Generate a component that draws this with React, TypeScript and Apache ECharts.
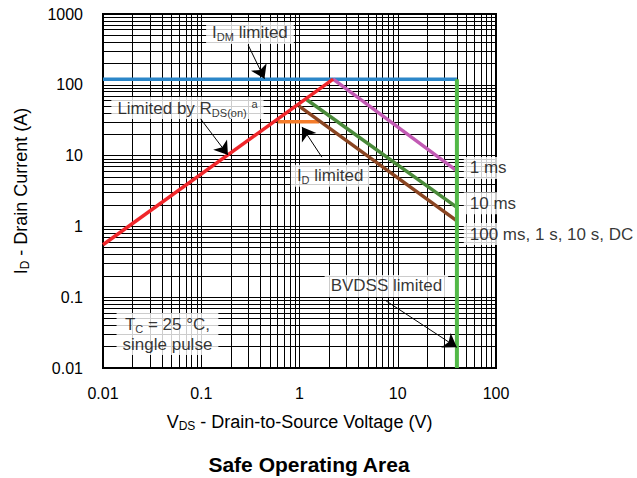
import React, { useEffect, useRef } from 'react';
import * as echarts from 'echarts';

const FONT = '"Liberation Sans", Arial, Helvetica, sans-serif';

const X_TICKS = ['0.01', '0.1', '1', '10', '100'];
const Y_TICKS = ['0.01', '0.1', '1', '10', '100', '1000'];

// Limit curves: [V_DS (V), I_D (A)]
const IDM_LIMIT = [[0.01, 120], [40, 120]];
const RDS_LIMIT = [[0.01, 0.55], [2.2, 120]];
const PULSE_1MS = [[2.2, 120], [40, 6.1]];
const PULSE_10MS = [[1.16, 63], [40, 1.86]];
const PULSE_100MS = [[0.99, 50], [40, 1.2]];
const ID_LIMIT = [[0.6, 30], [1.58, 30]];
const BVDSS_LIMIT = [[40, 120], [40, 0.01]];

// Annotations: text, anchor [V, A], alignment
const NOTES = [
  { text: 'I{s|DM} limited', at: [0.313, 540], align: 'center' },
  { text: 'Limited by R{s|DS(on)} {p|a}', at: [0.0724, 47], align: 'center' },
  { text: 'I{s|D} limited', at: [2.05, 5.2], align: 'center' },
  { text: '1 ms', at: [47, 6.7], align: 'left' },
  { text: '10 ms', at: [47, 2.12], align: 'left' },
  { text: '100 ms, 1 s, 10 s, DC', at: [47, 0.78], align: 'left' },
  { text: 'BVDSS limited', at: [7.66, 0.144], align: 'center' },
  { text: 'T{s|C} = 25 °C,\nsingle pulse', at: [0.0453, 0.0302], align: 'center' },
];

const ARROWS = [
  [[0.3, 365], [0.44, 122]],
  [[0.097, 34], [0.187, 10.2]],
  [[1.69, 9.5], [1.06, 25.4]],
  [[7.4, 0.091], [39.9, 0.0196]],
];

const RICH = {
  s: { fontSize: 11, verticalAlign: 'bottom', lineHeight: 13, fontFamily: FONT, color: '#000' },
  p: { fontSize: 11, verticalAlign: 'top', lineHeight: 13, fontFamily: FONT, color: '#000' },
};

function gridValues(lo: number, hi: number): number[] {
  const out: number[] = [];
  for (let e = lo; e < hi; e++) {
    for (let k = 1; k <= 9; k++) out.push(Number((k * Math.pow(10, e)).toPrecision(3)));
  }
  out.push(Math.pow(10, hi));
  return out;
}

function tickFormatter(ticks: string[]) {
  return (v: number) => {
    const t = ticks.find((s) => Math.abs(Math.log10(Number(s)) - Math.log10(v)) < 1e-6);
    return t ?? '';
  };
}

const lineSeries = (name: string, data: number[][], color: string, width = 3.5) => ({
  name,
  type: 'line',
  data,
  symbol: 'none',
  silent: true,
  z: 3,
  color,
  lineStyle: { color, width },
});

export default function App() {
  const ref = useRef<HTMLDivElement>(null);

  useEffect(() => {
    if (!ref.current) return;
    const chart = echarts.init(ref.current, undefined, { renderer: 'svg' });

    const gx = gridValues(-2, 2);
    const gy = gridValues(-2, 3);

    chart.setOption({
      animation: false,
      backgroundColor: '#fff',
      textStyle: { fontFamily: FONT },
      grid: {
        left: 103,
        right: 141,
        top: 14,
        bottom: 110,
        show: true,
        borderColor: '#000',
        borderWidth: 2,
        backgroundColor: '#fff',
        containLabel: false,
        outerBoundsMode: 'none',
      },
      xAxis: {
        type: 'log',
        logBase: 10,
        min: 0.01,
        max: 100,
        axisLine: { show: false },
        axisTick: { show: false },
        splitLine: { show: false },
        axisLabel: {
          color: '#000',
          fontSize: 16,
          fontFamily: FONT,
          margin: 17,
          formatter: tickFormatter(X_TICKS),
        },
        name: 'V{s|DS} - Drain-to-Source Voltage (V)',
        nameLocation: 'middle',
        nameGap: 44,
        nameTextStyle: {
          color: '#000',
          fontSize: 18,
          fontFamily: FONT,
          lineHeight: 20,
          rich: { s: { ...RICH.s, fontSize: 12 } },
        },
      },
      yAxis: {
        type: 'log',
        logBase: 10,
        min: 0.01,
        max: 1000,
        axisLine: { show: false },
        axisTick: { show: false },
        splitLine: { show: false },
        axisLabel: {
          color: '#000',
          fontSize: 16,
          fontFamily: FONT,
          margin: 20,
          formatter: tickFormatter(Y_TICKS),
        },
        name: 'I{s|D} - Drain Current (A)',
        nameLocation: 'middle',
        nameGap: 72,
        nameRotate: 90,
        nameTextStyle: {
          color: '#000',
          fontSize: 18,
          fontFamily: FONT,
          lineHeight: 20,
          rich: { s: { ...RICH.s, fontSize: 12 } },
        },
      },
      graphic: [
        {
          type: 'text',
          x: 309,
          y: 464,
          style: {
            text: 'Safe Operating Area',
            align: 'center',
            verticalAlign: 'middle',
            font: `bold 21px ${FONT}`,
            fill: '#000',
          },
        },
      ],
      series: [
        {
          name: 'grid',
          type: 'line',
          data: [],
          z: 1,
          silent: true,
          markLine: {
            z: 1,
            silent: true,
            symbol: ['none', 'none'],
            label: { show: false },
            lineStyle: { color: '#000', width: 1, type: 'solid' },
            emphasis: { disabled: true },
            data: [
              ...gx.map((v) => ({ xAxis: v })),
              ...gy.map((v) => ({ yAxis: v })),
            ],
          },
        },
        lineSeries('IDM limited', IDM_LIMIT, '#2b86c8'),
        lineSeries('ID limited', ID_LIMIT, '#f47c2a'),
        lineSeries('100 ms, 1 s, 10 s, DC', PULSE_100MS, '#8a4522'),
        lineSeries('10 ms', PULSE_10MS, '#4a8a3a'),
        lineSeries('1 ms', PULSE_1MS, '#c25ab4'),
        lineSeries('Limited by RDS(on)', RDS_LIMIT, '#f0262a'),
        lineSeries('BVDSS limited', BVDSS_LIMIT, '#52b947', 4),
        {
          name: 'arrows',
          type: 'line',
          data: [],
          z: 8,
          silent: true,
          color: '#000',
          markLine: {
            z: 8,
            silent: true,
            symbol: ['none', 'arrow'],
            symbolSize: 13,
            label: { show: false },
            emphasis: { disabled: true },
            lineStyle: { color: '#000', width: 1, type: 'solid' },
            data: ARROWS.map(([a, b]) => [{ coord: a }, { coord: b }]),
          },
        },
        {
          name: 'notes',
          type: 'scatter',
          z: 10,
          silent: true,
          clip: false,
          symbol: 'circle',
          symbolSize: 1,
          itemStyle: { color: 'rgba(0,0,0,0)' },
          label: {
            show: true,
            position: 'inside',
            color: '#000',
            fontSize: 17,
            fontFamily: FONT,
            lineHeight: 20,
            backgroundColor: '#fff',
            padding: [1, 6],
            rich: RICH,
          },
          data: NOTES.map((n) => ({
            value: n.at,
            label: { formatter: n.text, align: n.align },
          })),
        },
      ],
    });

    return () => chart.dispose();
  }, []);

  return (
    <div
      ref={ref}
      style={{ position: 'fixed', left: 0, top: 0, width: 637, height: 478, background: '#fff' }}
    />
  );
}
